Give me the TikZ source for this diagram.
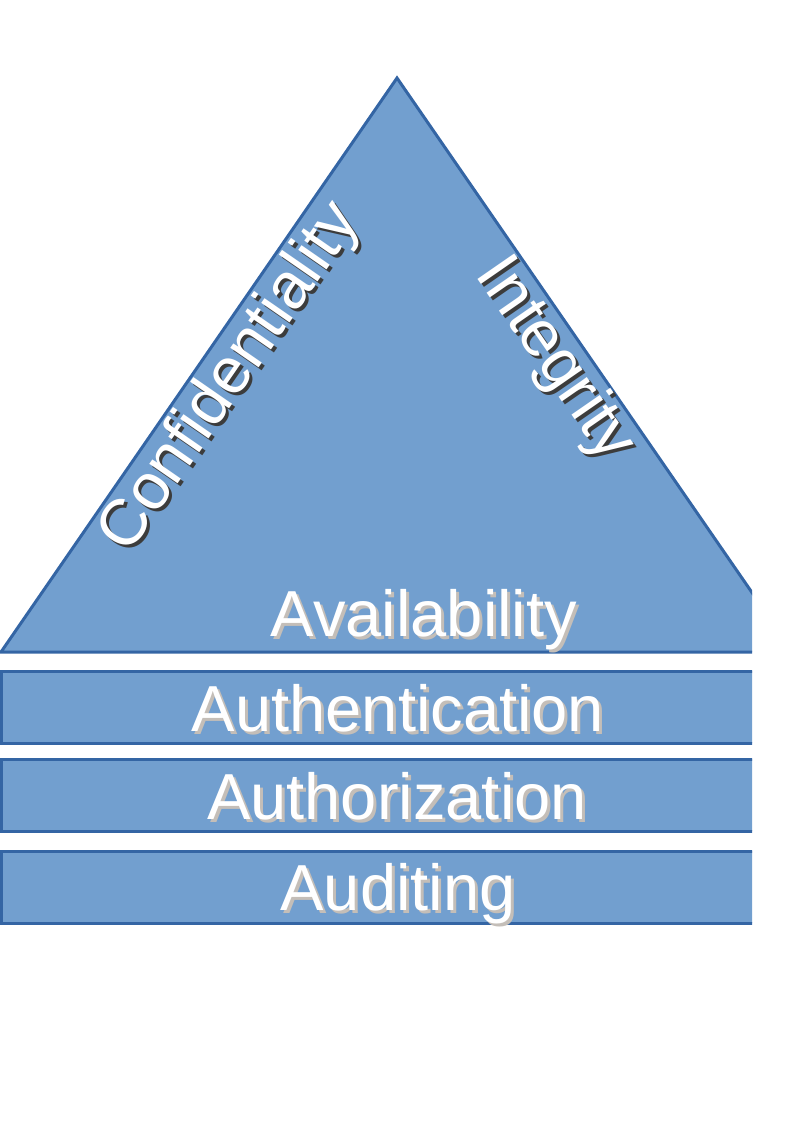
\documentclass[tikz,border=0pt]{standalone}
\usepackage{fontspec}
\setmainfont{Liberation Sans}
\definecolor{fillblue}{HTML}{729FCF}
\definecolor{edgeblue}{HTML}{3465A4}
\definecolor{lightshadow}{RGB}{196,190,184}
\definecolor{darkshadow}{RGB}{60,60,60}
\begin{document}
\begin{tikzpicture}[x=0.75pt,y=-0.75pt,
  blueshape/.style={fill=fillblue,draw=edgeblue,line width=2.25pt,line join=miter},
  txtlabel/.style={text=white,font=\fontsize{48.8}{48.8}\selectfont,inner sep=0pt,anchor=base},
  lshadow/.style={txtlabel,text=lightshadow},
  dshadow/.style={txtlabel,text=darkshadow}]
\useasboundingbox (0,0) rectangle (794,1123);
\begin{scope}
\clip (-5,0) rectangle (752,1123);
\draw[blueshape] (1,652) -- (397,78) -- (793,652) -- cycle;
\draw[blueshape] (1.5,671) rectangle (800,743);
\draw[blueshape] (1.5,759) rectangle (800,831);
\draw[blueshape] (1.5,851) rectangle (800,923);
\end{scope}
% rotated labels
\node[dshadow,anchor=center,rotate=55.3] (confs) at (234,381) {Confidentiality};
\node[txtlabel,anchor=center,rotate=55.3] (conf) at (231,378) {Confidentiality};
\node[dshadow,anchor=center,rotate=-55.3] (ints) at (557,363) {Integrity};
\node[txtlabel,anchor=center,rotate=-55.3] (int) at (554,360) {Integrity};
% horizontal labels
\node[lshadow] (avas) at (427,639) {Availability};
\node[txtlabel] (ava) at (424,636) {Availability};
\node[lshadow] (auths) at (401,734) {Authentication};
\node[txtlabel] (auth) at (398,731) {Authentication};
\node[lshadow] (authzs) at (400,822) {Authorization};
\node[txtlabel] (authz) at (397,819) {Authorization};
\node[lshadow] (auds) at (401,913) {Auditing};
\node[txtlabel] (aud) at (398,910) {Auditing};
\end{tikzpicture}
\end{document}
